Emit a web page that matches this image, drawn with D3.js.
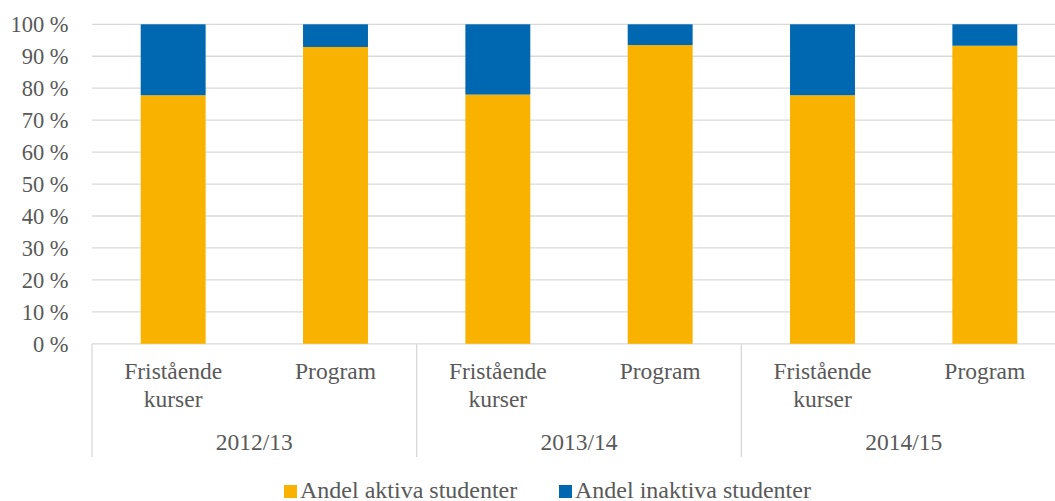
<!DOCTYPE html>
<html>
<head>
<meta charset="utf-8">
<script src="https://cdn.jsdelivr.net/npm/d3@7"></script>
<style>
  body { margin: 0; background: #fff; }
  svg { font-family: "Liberation Serif", "Times New Roman", serif; }
  svg text, svg tspan { fill: #595959; }
</style>
</head>
<body>
<svg class="chart" width="1055" height="501"></svg>
<script>
var years = ["2012/13", "2013/14", "2014/15"];
var types = ["Fristående\nkurser", "Program"];
var aktiva = [77.8, 92.9, 78.0, 93.5, 77.8, 93.3];
var inaktiva = [22.2, 7.1, 22.0, 6.5, 22.2, 6.7];
var yTicks = [0, 10, 20, 30, 40, 50, 60, 70, 80, 90, 100];
var seriesNames = ["Andel aktiva studenter", "Andel inaktiva studenter"];
var colors = ["#f9b200", "#0068b1"];

var svg = d3.select(".chart");
var plotLeft = 92, plotRight = 1066, plotTop = 24.3, plotBottom = 343.8;

// one slot per bar
var slots = [];
years.forEach((yr, i) => {
    types.forEach((t, j) => {
        slots.push({ year: yr, type: t, idx: i * types.length + j });
    });
});

var x = d3.scaleBand()
    .domain(slots.map(d => d.idx))
    .range([plotLeft, plotRight])
    .paddingInner(0.6)
    .paddingOuter(0.3);

var y = d3.scaleLinear()
    .domain([0, 100])
    .range([plotBottom, plotTop]);

// gridlines
svg.append("g")
    .selectAll("line")
    .data(yTicks)
    .enter()
    .append("line")
    .attr("x1", plotLeft)
    .attr("x2", plotRight)
    .attr("y1", d => y(d))
    .attr("y2", d => y(d))
    .attr("stroke", "#d9d9d9")
    .attr("stroke-width", 1.3);

// y tick labels
svg.append("g")
    .selectAll("text")
    .data(yTicks)
    .enter()
    .append("text")
    .attr("x", 68.5)
    .attr("y", d => y(d))
    .attr("dy", "0.35em")
    .attr("text-anchor", "end")
    .style("font-size", "22.5px")
    .text(d => d + "\u00a0%");

// stacked bars
var stacked = slots.map((s, i) => ({ idx: s.idx, a: aktiva[i], b: inaktiva[i] }));

svg.append("g")
    .selectAll("rect")
    .data(stacked)
    .enter()
    .append("rect")
    .attr("x", d => x(d.idx))
    .attr("width", x.bandwidth())
    .attr("y", d => y(d.a))
    .attr("height", d => y(0) - y(d.a))
    .attr("fill", colors[0]);

svg.append("g")
    .selectAll("rect")
    .data(stacked)
    .enter()
    .append("rect")
    .attr("x", d => x(d.idx))
    .attr("width", x.bandwidth())
    .attr("y", d => y(d.a + d.b))
    .attr("height", d => y(d.a) - y(d.a + d.b))
    .attr("fill", colors[1]);

// group dividers
var groupW = x.step() * types.length;
var dividers = d3.range(years.length + 1).map(i => plotLeft + i * groupW);
svg.append("g")
    .selectAll("line")
    .data(dividers)
    .enter()
    .append("line")
    .attr("x1", d => d)
    .attr("x2", d => d)
    .attr("y1", plotBottom)
    .attr("y2", 457)
    .attr("stroke", "#d9d9d9")
    .attr("stroke-width", 1.3);

// category labels
var cat = svg.append("g")
    .selectAll("text")
    .data(slots)
    .enter()
    .append("text")
    .attr("text-anchor", "middle")
    .style("font-size", "23.5px");

cat.each(function (d) {
    var lines = d.type.split("\n");
    var cx = x(d.idx) + x.bandwidth() / 2;
    d3.select(this).selectAll("tspan")
        .data(lines)
        .enter()
        .append("tspan")
        .attr("x", cx)
        .attr("y", (l, k) => 379 + k * 27.5)
        .text(l => l);
});

// year labels
svg.append("g")
    .selectAll("text")
    .data(years)
    .enter()
    .append("text")
    .attr("x", (d, i) => plotLeft + (i + 0.5) * groupW)
    .attr("y", 450)
    .attr("text-anchor", "middle")
    .style("font-size", "23.5px")
    .text(d => d);

// legend
var legendX = [284, 559];
var leg = svg.append("g")
    .selectAll("g")
    .data(seriesNames)
    .enter()
    .append("g")
    .attr("transform", (d, i) => "translate(" + legendX[i] + ",485)");

leg.append("rect")
    .attr("width", 13)
    .attr("height", 13)
    .attr("fill", (d, i) => colors[i]);

leg.append("text")
    .attr("x", 16)
    .attr("y", 12.5)
    .style("font-size", "24px")
    .text(d => d);
</script>
</body>
</html>
